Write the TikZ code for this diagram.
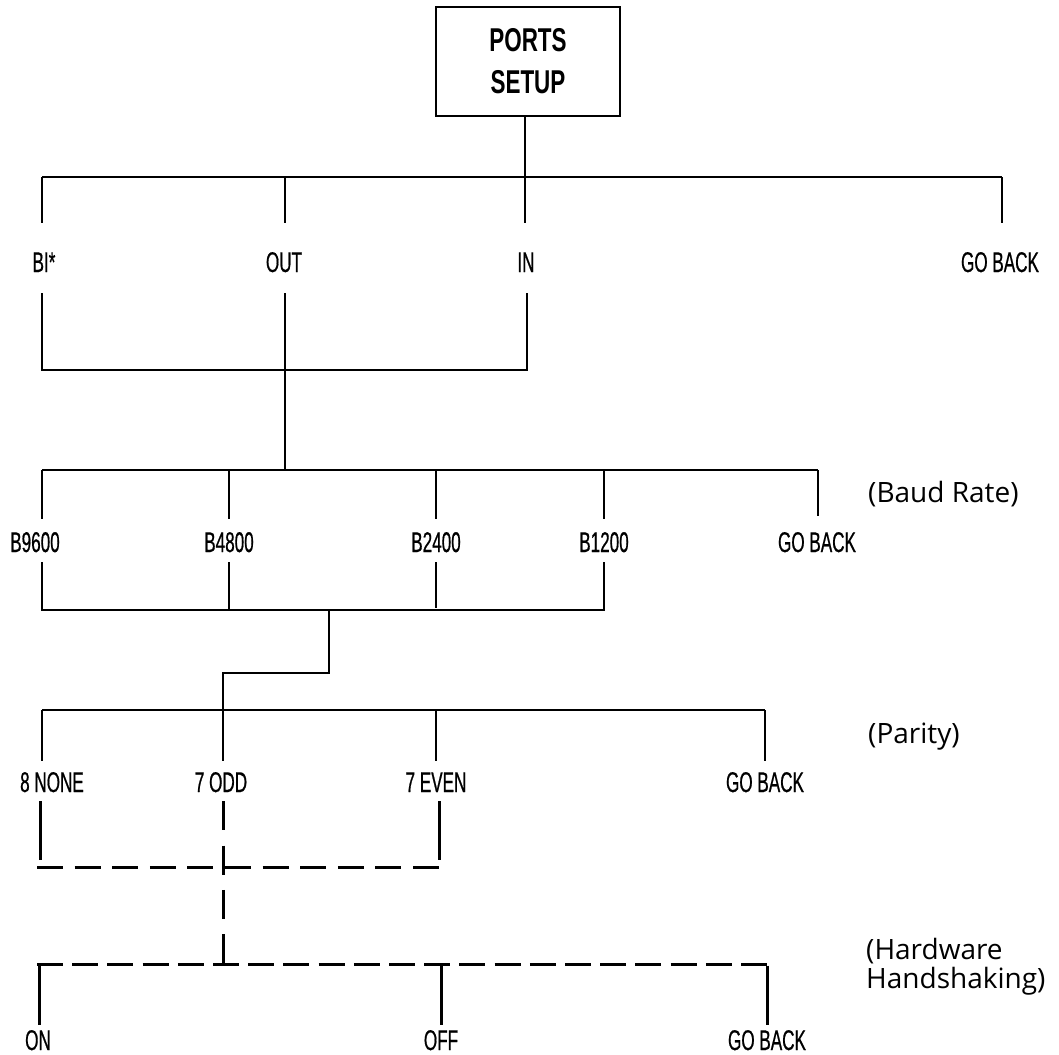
\documentclass[tikz,border=0pt]{standalone}
\usepackage{fontspec}
\setmainfont{Liberation Sans}
\newfontfamily\condfont[FakeStretch=0.6,FakeBold=0.6]{Liberation Sans}
\newfontfamily\titlefont[FakeStretch=0.68]{Liberation Sans}
\newfontfamily\sidefont{Open Sans}
\begin{document}
\begin{tikzpicture}[x=1pt,y=-1pt,
  wire/.style={line width=1.3pt, black},
  heavy/.style={line width=3pt, black},
  dashA/.style={line width=3pt, black, dash pattern=on 26pt off 11.6pt},
  dashB/.style={line width=3pt, black, dash pattern=on 26pt off 9.2pt},
  dashvert/.style={line width=3pt, black, dash pattern=on 29pt off 15.3pt},
  lab/.style={font=\condfont\fontsize{28.5}{30}\selectfont, inner sep=0pt, anchor=base},
  lvlA/.style={lab, text height=49pt, text depth=21pt},
  lvlB/.style={lab, text height=33pt, text depth=10pt},
  lvlC/.style={lab, text height=31pt, text depth=9pt},
  lvlD/.style={lab, text height=25pt, text depth=0pt},
  side/.style={font=\sidefont\fontsize{28}{29}\selectfont, inner sep=0pt, anchor=base west, align=left},
  titlebox/.style={draw, line width=1.3pt, minimum width=184pt, minimum height=109pt, inner sep=0pt,
    align=center, font=\titlefont\bfseries\fontsize{33}{42}\selectfont}
]
\useasboundingbox (0,0) rectangle (1059,1054);

% title
\node[titlebox] (ports) at (528,61.5) {PORTS\\SETUP};

% level A
\node[lvlA] (bi)  at (44,272)   {BI*};
\node[lvlA] (out) at (284,272)  {OUT};
\node[lvlA] (in)  at (526,272)  {IN};
\node[lvlA] (gbA) at (1000,272) {GO BACK};
\coordinate (tA1) at (42,177);
\coordinate (tA2) at (285,177);
\coordinate (tA3) at (525,177);
\coordinate (tA4) at (1002,177);
\coordinate (uA1) at (42,370);
\coordinate (uA2) at (285,370);
\coordinate (uA3) at (527,370);

\draw[wire] (tA3 |- ports.south) -- (tA3);
\draw[wire] (tA1) -- (tA4);
\draw[wire] (tA1) -- (tA1 |- bi.north);
\draw[wire] (tA2) -- (tA2 |- out.north);
\draw[wire] (tA3) -- (tA3 |- in.north);
\draw[wire] (tA4) -- (tA4 |- gbA.north);
\draw[wire] (uA1 |- bi.south) -- (uA1) -- (uA3) -- (uA3 |- in.south);
\draw[wire] (uA2 |- out.south) -- (uA2);

% level B
\node[lvlB] (b96) at (35,552)  {B9600};
\node[lvlB] (b48) at (229,552) {B4800};
\node[lvlB] (b24) at (436,552) {B2400};
\node[lvlB] (b12) at (604,552) {B1200};
\node[lvlB] (gbB) at (817,552) {GO BACK};
\coordinate (tB1) at (42,470);
\coordinate (tB2) at (229,470);
\coordinate (jB)  at (285,470);
\coordinate (tB3) at (436,470);
\coordinate (tB4) at (604,470);
\coordinate (tB5) at (818,470);
\coordinate (uB1) at (42,610);
\coordinate (uB2) at (229,610);
\coordinate (uB3) at (436,610);
\coordinate (uB4) at (604,610);
\coordinate (jog1) at (329,610);
\coordinate (jog2) at (329,673);
\coordinate (jog3) at (223,673);

\draw[wire] (uA2) -- (jB);
\draw[wire] (tB1) -- (tB5);
\draw[wire] (tB1) -- (tB1 |- b96.north);
\draw[wire] (tB2) -- (tB2 |- b48.north);
\draw[wire] (tB3) -- (tB3 |- b24.north);
\draw[wire] (tB4) -- (tB4 |- b12.north);
\draw[wire] (tB5) -- ([yshift=3pt]tB5 |- gbB.north);
\draw[wire] (uB1 |- b96.south) -- (uB1) -- (uB4) -- (uB4 |- b12.south);
\draw[wire] (uB2 |- b48.south) -- (uB2);
\draw[wire] (uB3 |- b24.south) -- ([yshift=2pt]uB3);

% level C
\node[lvlC] (n8)  at (52,792)  {8 NONE};
\node[lvlC] (o7)  at (221,792) {7 ODD};
\node[lvlC] (e7)  at (436,792) {7 EVEN};
\node[lvlC] (gbC) at (765,792) {GO BACK};
\coordinate (tC1) at (42,710);
\coordinate (tC2) at (223,710);
\coordinate (tC3) at (436,710);
\coordinate (tC4) at (765,710);

\draw[wire] (jog1) -- (jog2) -- (jog3) -- (tC2);
\draw[wire] (tC1) -- (tC4);
\draw[wire] (tC1) -- (tC1 |- n8.north);
\draw[wire] (tC2) -- (tC2 |- o7.north);
\draw[wire] (tC3) -- (tC3 |- e7.north);
\draw[wire] (tC4) -- (tC4 |- gbC.north);

% dashed part
\coordinate (uC1) at (40,860);
\coordinate (uC3) at (439,860);
\coordinate (dC1) at (37,867);
\coordinate (dC3) at (439,867);
\coordinate (vC2) at (223,964);
\coordinate (tD1) at (39,964);
\coordinate (tD2) at (441,964);
\coordinate (tD3) at (767,964);
\coordinate (dD1) at (37,964);

\draw[heavy] (uC1 |- n8.south) -- (uC1);
\draw[heavy] (uC3 |- e7.south) -- (uC3);
\draw[dashA] (dC1) -- (dC3);
\draw[dashvert] (vC2 |- o7.south) -- (vC2);
\draw[dashB] (dD1) -- (tD3);

% level D
\node[lvlD] (on)  at (38,1050)  {ON};
\node[lvlD] (off) at (441,1050) {OFF};
\node[lvlD] (gbD) at (767,1050) {GO BACK};
\draw[heavy] ([yshift=-1.5pt]tD1) -- (tD1 |- on.north);
\draw[heavy] (tD2) -- (tD2 |- off.north);
\draw[heavy] ([yshift=-1.5pt]tD3) -- (tD3 |- gbD.north);

% side notes
\node[side] (baud) at (868,502) {(Baud Rate)};
\node[side] (par)  at (868,743) {(Parity)};
\node[side] (hw)   at (866,988) {(Hardware\\Handshaking)};
\end{tikzpicture}
\end{document}
